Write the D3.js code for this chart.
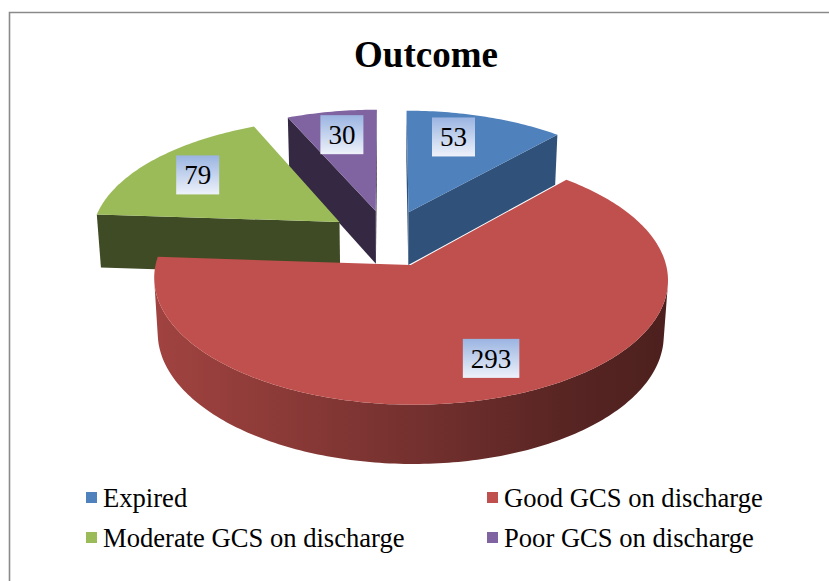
<!DOCTYPE html>
<html><head><meta charset="utf-8">
<script src="https://cdn.jsdelivr.net/npm/d3@7"></script>
<style>html,body{margin:0;padding:0;background:#fff;} svg{display:block}</style>
</head><body>
<script>
// ---- data ----
const categories = ["Expired", "Good GCS on discharge", "Moderate GCS on discharge", "Poor GCS on discharge"];
const values = [53, 293, 79, 30];
const chartTitle = "Outcome";

// ---- styles ----
const topColors = ["#4F81BD", "#C0504D", "#9BBB59", "#8064A2"];
const faceColors = ["#30527A", "#5E2625", "#3E4B24", "#352843"];
const FONT = "Liberation Serif";

const W = 829, H = 581;
const svg = d3.select("body").append("svg").attr("width", W).attr("height", H);
const defs = svg.append("defs");

// frame (only top and left edges visible)
svg.append("path").attr("d", `M9.5,${H} V12.5 H${W}`)
  .attr("fill", "none").attr("stroke", "#8a8a8a").attr("stroke-width", 1.6);

// title
svg.append("text").attr("x", 426).attr("y", 67).attr("text-anchor", "middle")
  .attr("font-family", FONT)
  .attr("font-size", 37).attr("font-weight", "bold").attr("fill", "#000").text(chartTitle);

// ---- 3D projection ----
const X0 = 387.7, Y0 = 238, S = 249, sinP = 0.474, cosP = 0.881, P = 0.125;
const depth = 0.249, explode = 0.24;
const camX = 0, camY = sinP / P, camZ = -cosP / P;
function project(X, Y, Z) {
  const yc = Z * sinP + Y * cosP;
  const zc = 1 + P * (Z * cosP - Y * sinP);
  return [X0 + S * X / zc, Y0 - S * yc / zc];
}
function visible(nx, nz, px, py, pz) {
  return nx * (camX - px) + nz * (camZ - pz) > 0;
}

const pie = d3.pie().sort(null).value(d => d)(values);
const line = d3.line();

const slices = pie.map((p, i) => {
  const mid = (p.startAngle + p.endAngle) / 2;
  const cx = explode * Math.sin(mid), cz = explode * Math.cos(mid);
  return { i, p, mid, cx, cz, sortZ: cz + 0.5 * Math.cos(mid) };
});
slices.sort((a, b) => b.sortZ - a.sortZ);

const gPie = svg.append("g");
slices.forEach(s => {
  const { i, p, cx, cz } = s;
  const a0 = p.startAngle, a1 = p.endAngle;
  const n = Math.max(8, Math.ceil((a1 - a0) / (Math.PI / 180)));
  const angs = d3.range(n + 1).map(k => a0 + (a1 - a0) * k / n);
  const rim = (a, Y) => project(cx + Math.sin(a), Y, cz + Math.cos(a));
  const g = gPie.append("g");

  // radial faces
  [[a0, a0 - Math.PI / 2], [a1, a1 + Math.PI / 2]].forEach(([a, na]) => {
    const nx = Math.sin(na), nz = Math.cos(na);
    const px = cx + 0.5 * Math.sin(a), pz = cz + 0.5 * Math.cos(a);
    if (visible(nx, nz, px, 0, pz)) {
      const pts = [project(cx, 0, cz), rim(a, 0), rim(a, -depth), project(cx, -depth, cz)];
      g.append("path").attr("d", line(pts) + "Z").attr("fill", faceColors[i]);
    }
  });

  // outer side: visible runs
  let runs = [], cur = null;
  for (let k = 0; k < n; k++) {
    const am = (angs[k] + angs[k + 1]) / 2;
    const vis = visible(Math.sin(am), Math.cos(am), cx + Math.sin(am), 0, cz + Math.cos(am));
    if (vis) { if (!cur) { cur = [angs[k]]; runs.push(cur); } cur.push(angs[k + 1]); }
    else cur = null;
  }
  runs.forEach((run, ri) => {
    const topPts = run.map(a => rim(a, 0));
    const botPts = run.map(a => rim(a, -depth)).reverse();
    const pts = topPts.concat(botPts);
    const xs = pts.map(d => d[0]);
    const gid = `side${i}_${ri}`;
    const base = d3.color(topColors[i]);
    const lg = defs.append("linearGradient").attr("id", gid)
      .attr("gradientUnits", "userSpaceOnUse")
      .attr("x1", d3.min(xs)).attr("x2", d3.max(xs)).attr("y1", 0).attr("y2", 0);
    [[0, 0.5], [0.5, 1.4], [0.8, 2.2], [1, 2.6]].forEach(([o, k]) =>
      lg.append("stop").attr("offset", o).attr("stop-color", base.darker(k).formatHex()));
    g.append("path").attr("d", line(pts) + "Z").attr("fill", `url(#${gid})`);
  });

  // top face
  const topPts = [project(cx, 0, cz)].concat(angs.map(a => rim(a, 0)));
  g.append("path").attr("d", line(topPts) + "Z").attr("fill", topColors[i]);
});

// ---- data labels ----
const lgrad = defs.append("linearGradient").attr("id", "lblGrad")
  .attr("x1", 0).attr("x2", 0).attr("y1", 0).attr("y2", 1);
lgrad.append("stop").attr("offset", 0).attr("stop-color", "#9AB4E1");
lgrad.append("stop").attr("offset", 1).attr("stop-color", "#EEF2FA");

const gLbl = svg.append("g");
pie.forEach((p, i) => {
  const mid = (p.startAngle + p.endAngle) / 2;
  const cx = explode * Math.sin(mid), cz = explode * Math.cos(mid);
  const r = 0.75;
  const la = mid - 0.12 * (p.endAngle - p.startAngle) * (i === 0 ? 1 : 0);
  const [lx, ly] = project(cx + r * Math.sin(la), 0, cz + r * Math.cos(la));
  const txt = String(values[i]);
  const tw = txt.length * 13.5;
  const bw = tw + 16, bh = 39;
  gLbl.append("rect").attr("x", lx - bw / 2).attr("y", ly - bh / 2)
    .attr("width", bw).attr("height", bh).attr("fill", "url(#lblGrad)");
  gLbl.append("text").attr("x", lx).attr("y", ly + 9.5).attr("text-anchor", "middle")
    .attr("font-family", FONT)
    .attr("font-size", 27).attr("fill", "#000").text(txt);
});

// ---- legend ----
const gLeg = svg.append("g");
categories.forEach((c, i) => {
  const col = i % 2, row = Math.floor(i / 2);
  const x = 86 + col * 401, y = 492 + row * 40;
  gLeg.append("rect").attr("x", x).attr("y", y).attr("width", 11).attr("height", 11)
    .attr("fill", topColors[i]);
  gLeg.append("text").attr("x", x + 17).attr("y", y + 15).attr("font-size", 26.6)
    .attr("font-family", FONT)
    .attr("fill", "#000").text(c);
});
</script>
</body></html>
